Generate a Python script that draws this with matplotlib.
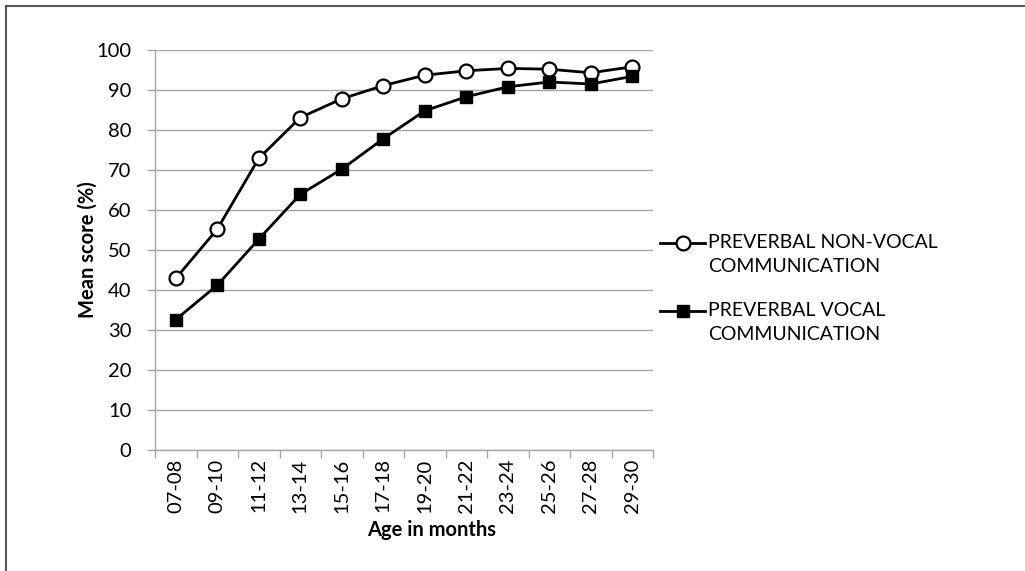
import matplotlib
matplotlib.use("Agg")
import matplotlib.pyplot as plt
from matplotlib.lines import Line2D

# data
age_groups = ["07-08", "09-10", "11-12", "13-14", "15-16", "17-18",
              "19-20", "21-22", "23-24", "25-26", "27-28", "29-30"]
non_vocal = [42.9, 55.2, 72.9, 83.1, 87.8, 91.1, 93.7, 94.8, 95.4, 95.2, 94.3, 95.8]
vocal     = [32.6, 41.2, 52.7, 63.9, 70.2, 77.8, 84.8, 88.3, 90.8, 92.0, 91.5, 93.4]
y_ticks = list(range(0, 101, 10))
legend_lines = [["PREVERBAL NON-VOCAL", "COMMUNICATION"],
                ["PREVERBAL VOCAL", "COMMUNICATION"]]

plt.rcParams["font.family"] = ["Lato", "DejaVu Sans"]
GRID = "#a6a6a6"
W, H = 1025, 571

fig = plt.figure(figsize=(W / 100, H / 100), dpi=100)
ax = fig.add_axes([155 / W, 1 - 450 / H, 498 / W, 400 / H])

x = list(range(len(age_groups)))
styles = [dict(marker="o", ms=10, mfc="white", mec="black", mew=1.6),
          dict(marker="s", ms=8.5, mfc="black", mec="black")]
ax.plot(x, non_vocal, color="black", lw=2.0, zorder=3, **styles[0])
ax.plot(x, vocal, color="black", lw=2.0, zorder=3, **styles[1])

ax.set_xlim(-0.5, len(age_groups) - 0.5)
ax.set_ylim(0, 100)
ax.set_yticks(y_ticks)
ax.yaxis.grid(True, color=GRID, lw=1.0)
ax.set_axisbelow(True)

# category ticks sit on the boundaries, labels in the middle
ax.set_xticks([i - 0.5 for i in range(len(age_groups) + 1)])
ax.set_xticklabels([])
ax.set_xticks(x, minor=True)
ax.set_xticklabels(age_groups, minor=True, rotation=90, fontsize=14.5)
ax.tick_params(axis="x", which="major", length=6, color=GRID, width=1)
ax.tick_params(axis="x", which="minor", length=0, pad=6)
ax.tick_params(axis="y", length=6, color=GRID, width=1, labelsize=14.5, pad=11)

for s in ["top", "right"]:
    ax.spines[s].set_visible(False)
for s in ["left", "bottom"]:
    ax.spines[s].set_color(GRID)
    ax.spines[s].set_linewidth(1.0)

ax.set_ylabel("Mean score (%)", fontsize=14.5, fontweight="bold", va="center")
ax.yaxis.set_label_coords(-(155 - 88) / 498, 0.5)
ax.set_xlabel("Age in months", fontsize=14.5, fontweight="bold", va="center")
ax.xaxis.set_label_coords((432 - 155) / 498, -(530 - 450) / 400)

# legend drawn by hand: the marker lines up with the first text line
for (first, second), st, y0 in zip(legend_lines, styles, [243, 311]):
    fig.add_artist(Line2D([660 / W, 705 / W], [1 - y0 / H] * 2, color="black",
                          lw=2.0, transform=fig.transFigure))
    fig.add_artist(Line2D([682.5 / W], [1 - y0 / H], color="black", lw=0,
                          transform=fig.transFigure, **st))
    fig.text(708 / W, 1 - y0 / H, first, fontsize=14, va="center", ha="left")
    fig.text(708 / W, 1 - (y0 + 24) / H, second, fontsize=14, va="center", ha="left")

# frame lines of the original picture (top and left only)
fig.add_artist(Line2D([5.5 / W, 1.0], [1 - 5.5 / H] * 2, color="#555555", lw=1.5,
                      transform=fig.transFigure))
fig.add_artist(Line2D([5.5 / W] * 2, [0.0, 1 - 5.5 / H], color="#555555", lw=1.5,
                      transform=fig.transFigure))

fig.savefig("out.png", dpi=100, facecolor="white")
